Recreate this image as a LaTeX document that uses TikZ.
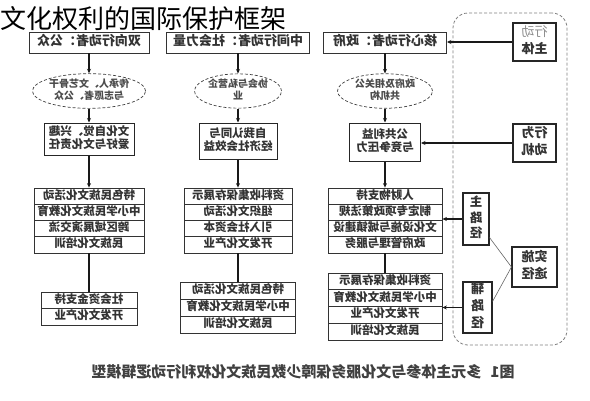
\documentclass[tikz,border=0pt]{standalone}
\usepackage{fontspec}
\usepackage{graphicx}
\newfontfamily\cjk{Noto Sans CJK SC}
\usetikzlibrary{arrows.meta,shapes.geometric,calc}
\newcommand\mir[1]{\reflectbox{\begin{tabular}{@{}c@{}}#1\end{tabular}}}
\begin{document}
\begin{tikzpicture}[x=1pt,y=-1pt,
  every node/.style={inner sep=0pt, text=black!80},
  hdr/.style={draw=black!80, line width=0.9pt, minimum height=21pt, font=\cjk\bfseries\fontsize{13}{15}\selectfont},
  ell/.style={ellipse, draw=black!75, dash pattern=on 3pt off 2pt, line width=0.7pt, font=\cjk\bfseries\fontsize{10}{12}\selectfont, text=black!70},
  tbox/.style={draw=black!85, line width=1pt, font=\cjk\bfseries\fontsize{11.5}{13}\selectfont},
  rowbox/.style={draw=black!80, line width=0.8pt, font=\cjk\bfseries\fontsize{11.5}{13}\selectfont},
  sidebox/.style={draw=black!85, line width=1.1pt, font=\cjk\bfseries\fontsize{13}{17}\selectfont},
  frame/.style={draw=black!50, dash pattern=on 3pt off 2pt, line width=0.8pt, rounded corners=15pt},
  conn/.style={draw=black!90, line width=1.3pt},
  arr/.style={conn, -{Stealth[length=4.5pt,width=4pt]}},
  thinline/.style={draw=black!60, line width=0.6pt}
]
\fill[white] (0,0) rectangle (590,400);
\useasboundingbox (0,0) rectangle (590,400);

% title
\node[anchor=west, font=\cjk\fontsize{26}{30}\selectfont, text=black] (title) at (0,19) {文化权利的国际保护框架};

% frame on the right
\node[frame, minimum width=114pt, minimum height=332pt] (fr) at (510,179) {};

% headers
\node[hdr, minimum width=120pt] (hL) at (89,42.5) {\mir{双向行动者：公众}};
\node[hdr, minimum width=143pt] (hM) at (238,42.5) {\mir{中间行动者：社会力量}};
\node[hdr, minimum width=123pt] (hR) at (385,42.5) {\mir{核心行动者：政府}};

% ellipses
\node[ell, minimum width=98pt, minimum height=28pt] (eL) at (89,91) {\mir{传承人、文艺骨干\\与志愿者、公众}};
\node[ell, minimum width=87pt, minimum height=28pt] (eM) at (238,91) {\mir{协会与私营企\\业}};
\node[ell, minimum width=95pt, minimum height=30pt] (eR) at (385,91) {\mir{政府及相关公\\共机构}};

% motive boxes
\node[tbox, minimum width=90pt, minimum height=32pt] (bL) at (89,139) {\mir{文化自觉、兴趣\\爱好与文化责任}};
\node[tbox, minimum width=78pt, minimum height=36pt] (bM) at (238,141) {\mir{自我认同与\\经济社会效益}};
\node[tbox, minimum width=71pt, minimum height=38pt] (bR) at (385,142) {\mir{公共利益\\与竞争压力}};

% main stacks
\node[rowbox, minimum width=110pt, minimum height=16.25pt] (sL1) at (89,196.125) {\mir{特色民族文化活动}};
\node[rowbox, minimum width=110pt, minimum height=16.25pt] (sL2) at (89,212.375) {\mir{中小学民族文化教育}};
\node[rowbox, minimum width=110pt, minimum height=16.25pt] (sL3) at (89,228.625) {\mir{跨区域展演交流}};
\node[rowbox, minimum width=110pt, minimum height=16.25pt] (sL4) at (89,244.875) {\mir{民族文化培训}};

\node[rowbox, minimum width=108pt, minimum height=16.25pt] (sM1) at (238,196.125) {\mir{资料收集保存展示}};
\node[rowbox, minimum width=108pt, minimum height=16.25pt] (sM2) at (238,212.375) {\mir{组织文化活动}};
\node[rowbox, minimum width=108pt, minimum height=16.25pt] (sM3) at (238,228.625) {\mir{引入社会资本}};
\node[rowbox, minimum width=108pt, minimum height=16.25pt] (sM4) at (238,244.875) {\mir{开发文化产业}};

\node[rowbox, minimum width=114pt, minimum height=16.25pt] (sR1) at (385,196.125) {\mir{人财物支持}};
\node[rowbox, minimum width=114pt, minimum height=16.25pt] (sR2) at (385,212.375) {\mir{制定专项政策法规}};
\node[rowbox, minimum width=114pt, minimum height=16.25pt] (sR3) at (385,228.625) {\mir{文化设施与城镇建设}};
\node[rowbox, minimum width=114pt, minimum height=16.25pt] (sR4) at (385,244.875) {\mir{政府管理与服务}};

% lower stacks
\node[rowbox, minimum width=96pt, minimum height=16.5pt] (lL1) at (89,300.25) {\mir{社会资金支持}};
\node[rowbox, minimum width=96pt, minimum height=16.5pt] (lL2) at (89,316.75) {\mir{开发文化产业}};

\node[rowbox, minimum width=115pt, minimum height=17pt] (lM1) at (238,290.5) {\mir{特色民族文化活动}};
\node[rowbox, minimum width=115pt, minimum height=17pt] (lM2) at (238,307.5) {\mir{中小学民族文化教育}};
\node[rowbox, minimum width=115pt, minimum height=17pt] (lM3) at (238,324.5) {\mir{民族文化培训}};

\node[rowbox, minimum width=114pt, minimum height=16.75pt] (lR1) at (385,281.375) {\mir{资料收集保存展示}};
\node[rowbox, minimum width=114pt, minimum height=16.75pt] (lR2) at (385,298.125) {\mir{中小学民族文化教育}};
\node[rowbox, minimum width=114pt, minimum height=16.75pt] (lR3) at (385,314.875) {\mir{开发文化产业}};
\node[rowbox, minimum width=114pt, minimum height=16.75pt] (lR4) at (385,331.625) {\mir{民族文化培训}};

% side boxes in frame
\node[sidebox, minimum width=43pt, minimum height=38pt, fill=white] (aZT) at (534.5,42) {\mir{\textcolor{black!45}{\mdseries 行动}\\主体}};
\node[sidebox, minimum width=43pt, minimum height=38pt] (aDJ) at (534.5,143) {\mir{行为\\动机}};
\node[sidebox, minimum width=26pt, minimum height=52pt, font=\cjk\bfseries\fontsize{12.5}{15}\selectfont] (zLJ) at (476,219) {\mir{主\\路\\径}};
\node[sidebox, minimum width=29pt, minimum height=51pt, font=\cjk\bfseries\fontsize{13}{17}\selectfont] (fLJ) at (477.5,307.5) {\mir{辅\\路\\径}};
\node[sidebox, minimum width=45pt, minimum height=40pt] (sST) at (534.5,267) {\mir{实施\\途径}};

% caption
\node[font=\cjk\bfseries\fontsize{15}{17}\selectfont, text=black!75] (cap) at (303,372) {\reflectbox{图1\hspace{9pt}多元主体参与文化服务保障少数民族文化权利行动逻辑模型}};

% column connectors
\draw[arr] (hL) -- (eL);
\draw[arr] (eL) -- (bL);
\draw[arr] (bL) -- (sL1);
\draw[conn] (sL4) -- (lL1);

\draw[arr] (hM) -- (eM);
\draw[arr] (eM) -- (bM);
\draw[arr] (bM) -- (sM1);
\draw[conn] (sM4) -- (lM1);

\draw[arr] (hR) -- (eR);
\draw[arr] (eR) -- (bR);
\draw[arr] (bR) -- (sR1);
\draw[conn] (sR4) -- (lR1);

% connectors from the frame
\draw[arr] (aZT.west) -- (aZT.west -| hR.east);
\draw[arr] (aDJ.west) -- (aDJ.west -| bR.east);
\draw[arr] (zLJ.west) -- (zLJ.west -| sR3.east);
\draw[arr] (fLJ.west) -- (fLJ.west -| lR3.east);
\draw[thinline] ($(zLJ.south east)+(0,-8)$) -- (sST.west);
\draw[thinline] ($(fLJ.north east)+(0,20)$) -- (sST.west);
\end{tikzpicture}
\end{document}
